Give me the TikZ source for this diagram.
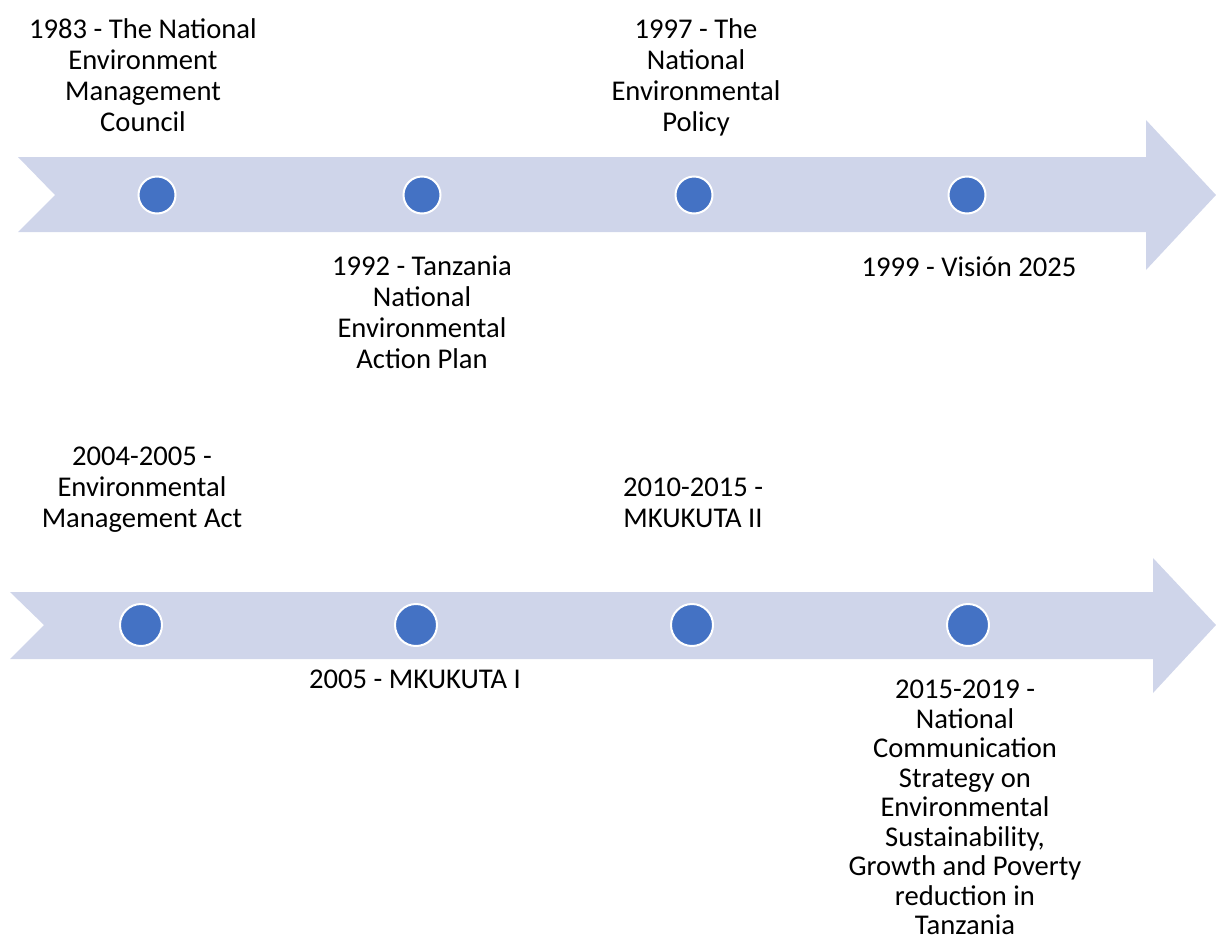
\documentclass[tikz,border=0pt]{standalone}
\usepackage{fontspec}
\setmainfont{Carlito}
\usetikzlibrary{positioning}

\definecolor{bandfill}{HTML}{CFD5EA}
\definecolor{dotfill}{HTML}{4472C4}

\begin{document}
\begin{tikzpicture}[x=0.5pt,y=-0.5pt,
  evtext/.style={align=center,anchor=south,inner sep=0pt,text depth=0pt,
    font=\fontsize{14.3pt}{#1}\selectfont},
  evtext/.default=15.6pt,
  dot/.style={circle,fill=dotfill,draw=white,line width=1pt,inner sep=0pt,minimum size=#1}]
\useasboundingbox (0,0) rectangle (1216,948);

% upper timeline
\fill[bandfill] (18,157) -- (1146,157) -- (1146,120) -- (1216,195) -- (1146,270)
  -- (1146,232) -- (18,232) -- (55,195) -- cycle;
\node[dot=18.5pt] (d1983) at (157,195) {};
\node[dot=18.5pt] (d1992) at (422,195) {};
\node[dot=18.5pt] (d1997) at (694,195) {};
\node[dot=18.5pt] (d1999) at (967,195) {};
\node[evtext] (t1983) at (143,132) {1983 - The National\\Environment\\Management\\Council};
\node[evtext] (t1997) at (696,132) {1997 - The\\National\\Environmental\\Policy};
\node[evtext] (t1992) at (422,369) {1992 - Tanzania\\National\\Environmental\\Action Plan};
\node[evtext] (t1999) at (969,277) {1999 - Visión 2025};

% lower timeline
\fill[bandfill] (10,592) -- (1153,592) -- (1153,558) -- (1216,625) -- (1153,693)
  -- (1153,659) -- (10,659) -- (44,625) -- cycle;
\node[dot=21pt] (d2004) at (141,625) {};
\node[dot=21pt] (d2005) at (416,625) {};
\node[dot=21pt] (d2010) at (692,625) {};
\node[dot=21pt] (d2015) at (968,625) {};
\node[evtext] (t2004) at (142,528) {2004-2005 -\\Environmental\\Management Act};
\node[evtext] (t2010) at (693,528) {2010-2015 -\\MKUKUTA II};
\node[evtext] (t2005) at (415,689) {2005 - MKUKUTA I};
\node[evtext=14.75pt] (t2015) at (965,935) {2015-2019 -\\National\\Communication\\Strategy on\\Environmental\\Sustainability,\\Growth and Poverty\\reduction in\\Tanzania};

\end{tikzpicture}
\end{document}
